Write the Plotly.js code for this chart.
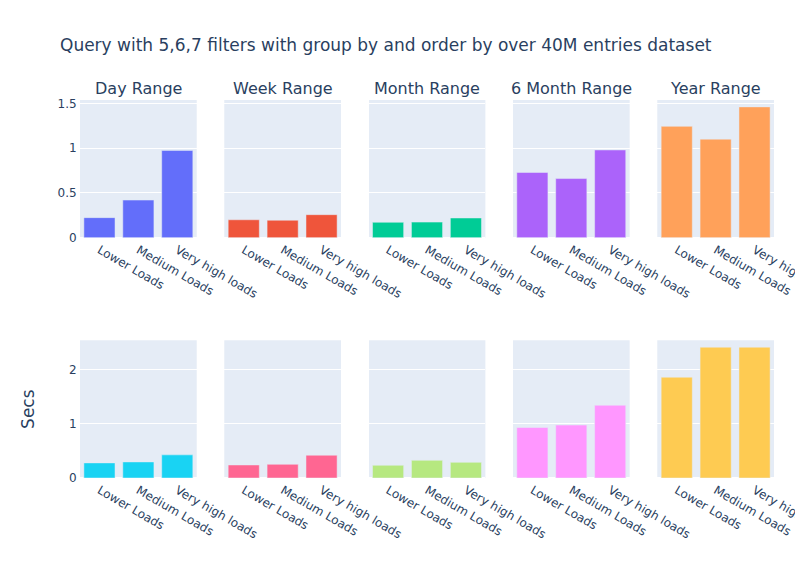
<!DOCTYPE html>
<html>
<head>
<meta charset="utf-8">
<script src="https://cdn.plot.ly/plotly-3.0.1.min.js"></script>
<style>html,body{margin:0;padding:0;background:#fff;}#chart{width:795px;height:562px;}</style>
</head>
<body>
<div id="chart"></div>
<script>
const categories = ["Lower Loads", "Medium Loads", "Very high loads"];
const rangeTitles = ["Day Range", "Week Range", "Month Range", "6 Month Range", "Year Range"];

// Row 1 values (secs)
const day1 = [0.224, 0.42, 0.974];
const week1 = [0.20, 0.195, 0.257];
const month1 = [0.172, 0.174, 0.22];
const sixMonth1 = [0.728, 0.66, 0.979];
const year1 = [1.243, 1.10, 1.46];

// Row 2 values (secs)
const day2 = [0.278, 0.296, 0.426];
const week2 = [0.24, 0.252, 0.42];
const month2 = [0.234, 0.326, 0.289];
const sixMonth2 = [0.93, 0.975, 1.34];
const year2 = [1.857, 2.41, 2.41];

const colors = ["#636efa", "#EF553B", "#00cc96", "#ab63fa", "#FFA15A",
                "#19d3f3", "#FF6692", "#B6E880", "#FF97FF", "#FECB52"];

const row1 = [day1, week1, month1, sixMonth1, year1];
const row2 = [day2, week2, month2, sixMonth2, year2];

const FONT = "Verdana, 'DejaVu Sans', sans-serif";
const FC = "#2a3f5f";

const colDomains = [[0, 0.1682], [0.2079, 0.3761], [0.4159, 0.5841], [0.6238, 0.792], [0.8318, 1.0]];
const rowDomains = [[0.6357, 1.0], [0, 0.3643]];

const traces = [];
const layout = {
  width: 795, height: 562,
  paper_bgcolor: "#fff", plot_bgcolor: "#E5ECF6",
  font: {family: FONT, color: FC, size: 12},
  showlegend: false,
  margin: {l: 80, r: 21, t: 100, b: 84},
  title: {text: "Query with 5,6,7 filters with group by and order by over 40M entries dataset",
          font: {size: 17, family: FONT, color: FC},
          x: 60 / 795, xref: "container", xanchor: "left",
          y: 1 - 45 / 562, yref: "container", yanchor: "middle"},
  annotations: []
};

const rows = [row1, row2];
let idx = 0;
for (let r = 0; r < 2; r++) {
  for (let c = 0; c < 5; c++) {
    idx++;
    const xa = idx === 1 ? "x" : "x" + idx;
    const ya = idx === 1 ? "y" : "y" + idx;
    traces.push({
      type: "bar", x: categories, y: rows[r][c], xaxis: xa, yaxis: ya,
      marker: {color: colors[idx - 1], line: {color: "#E5ECF6", width: 0.5}},
      name: rangeTitles[c]
    });
    const xk = idx === 1 ? "xaxis" : "xaxis" + idx;
    const yk = idx === 1 ? "yaxis" : "yaxis" + idx;
    layout[xk] = {
      domain: colDomains[c], anchor: ya, tickangle: 30,
      showgrid: false, linecolor: "white",
      tickfont: {size: 12, family: FONT, color: FC}, automargin: false
    };
    const firstY = r === 0 ? "y" : "y6";
    layout[yk] = {
      domain: rowDomains[r], anchor: xa,
      gridcolor: "white", zerolinecolor: "white", zerolinewidth: 2, linecolor: "white",
      showticklabels: c === 0, ticks: "",
      tickfont: {size: 12, family: FONT, color: FC}, automargin: false
    };
    if (c !== 0) layout[yk].matches = firstY;
    if (r === 0 && c === 0) layout[yk].dtick = 0.5;
    if (r === 1 && c === 0) {
      layout[yk].title = {text: "Secs", font: {size: 17, family: FONT, color: FC}, standoff: 30};
    }
  }
}
for (let c = 0; c < 5; c++) {
  layout.annotations.push({
    text: rangeTitles[c], showarrow: false, xref: "paper", yref: "paper",
    x: (colDomains[c][0] + colDomains[c][1]) / 2, y: 1.0,
    xanchor: "center", yanchor: "bottom",
    font: {size: 16, family: FONT, color: FC}
  });
}

Plotly.newPlot("chart", traces, layout, {displayModeBar: false, staticPlot: true});
</script>
</body>
</html>
